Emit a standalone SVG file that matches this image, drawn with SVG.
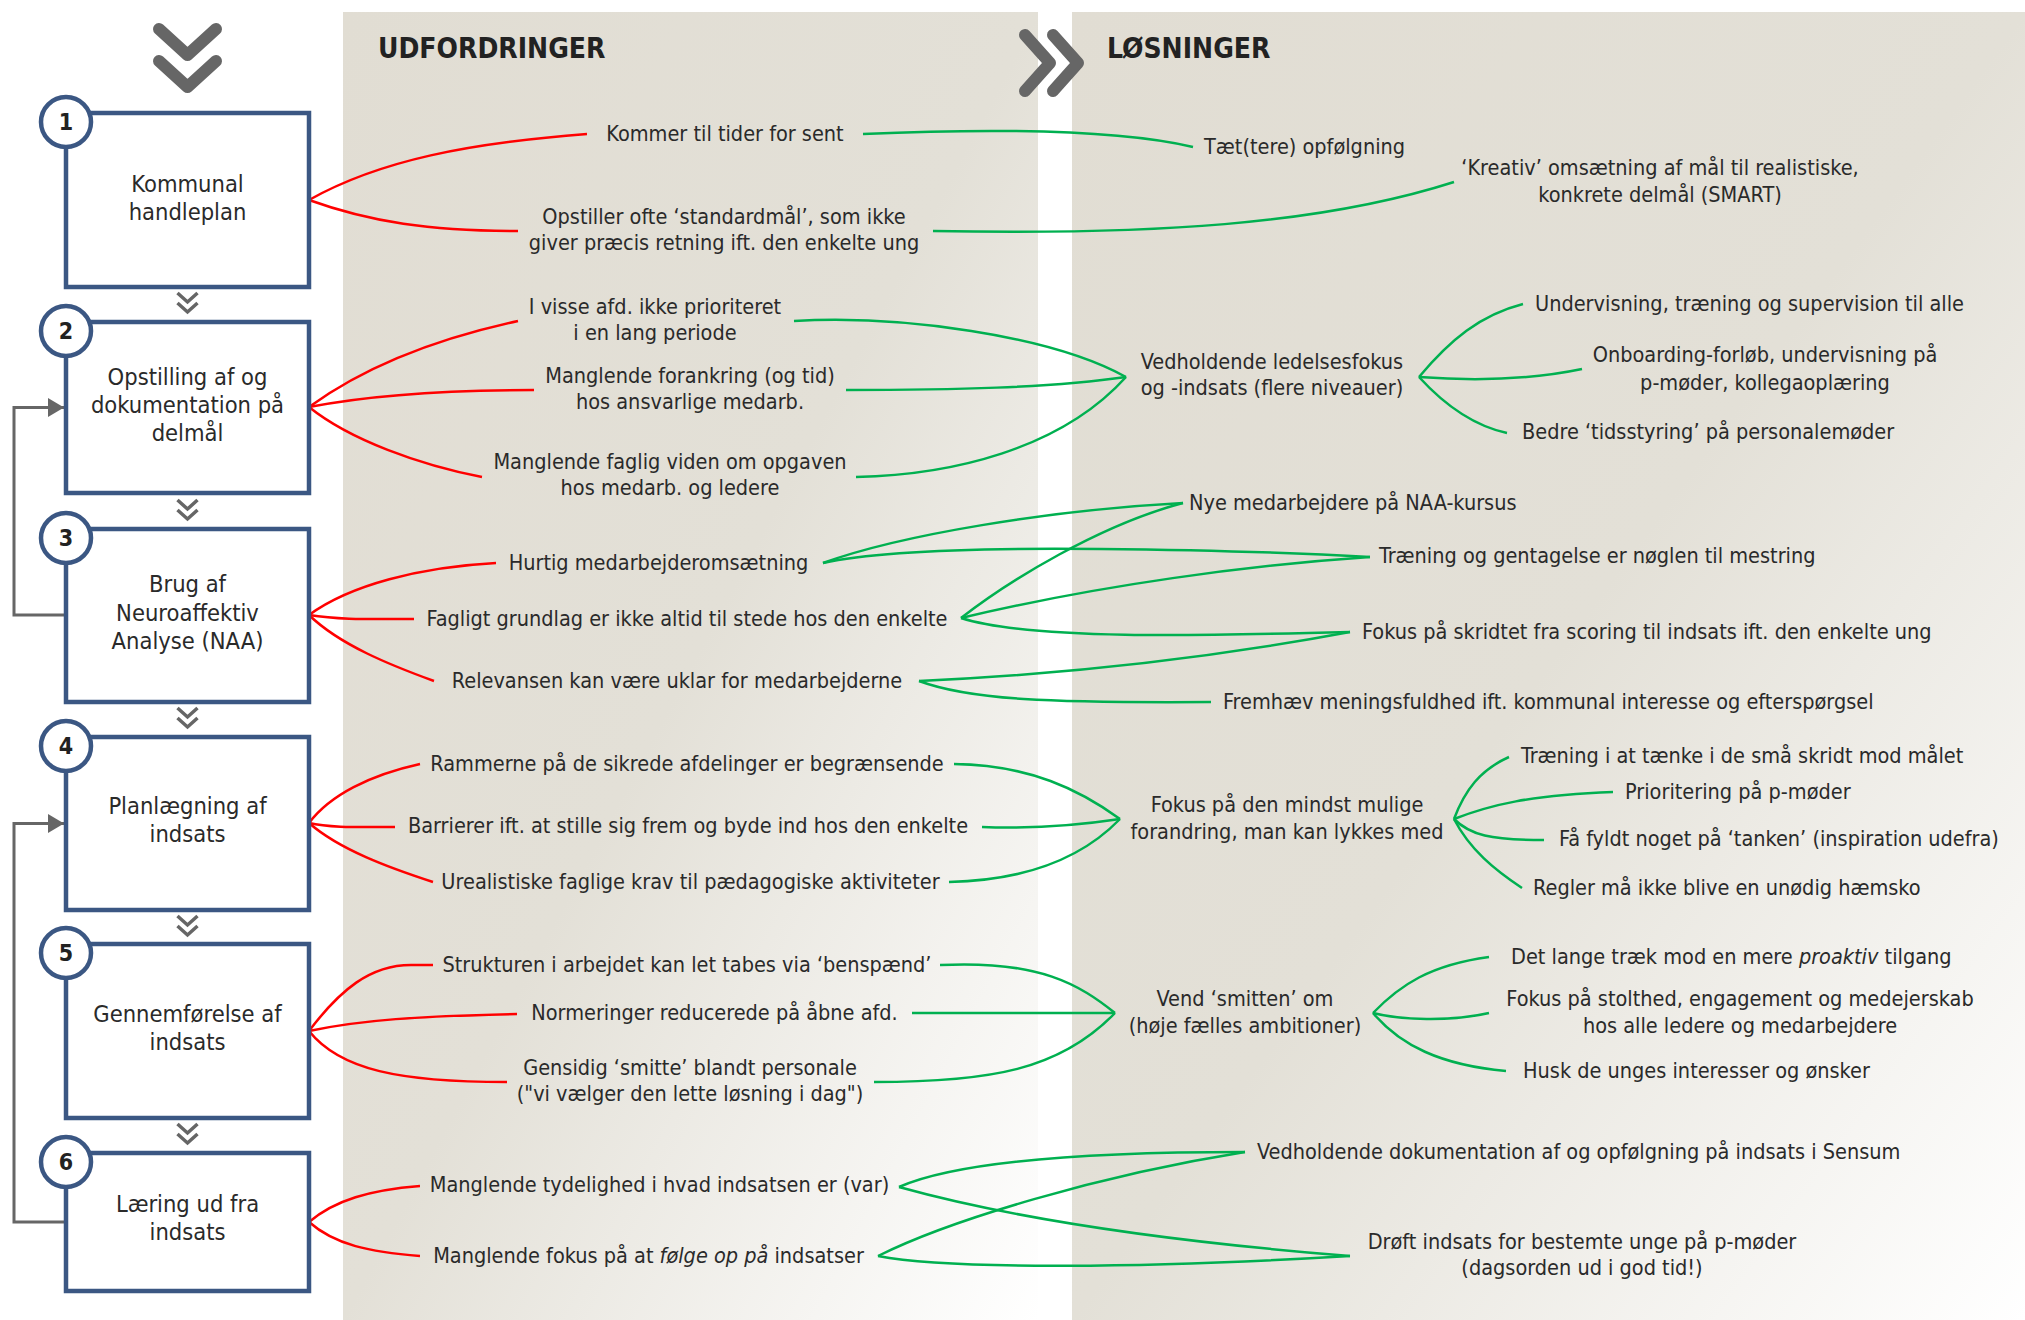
<svg xmlns="http://www.w3.org/2000/svg" width="2025" height="1320" viewBox="0 0 2025 1320">
<defs>
<style>
text{font-family:'DejaVu Sans Condensed','DejaVu Sans',sans-serif;fill:#2a2a2a}
.box{fill:#fff;stroke:#3b5783;stroke-width:4.5}
.num{fill:#fff;stroke:#3b5783;stroke-width:4.5}
.nt{font-size:23px;font-weight:bold;text-anchor:middle;fill:#222}
.bt{font-size:23.5px;text-anchor:middle}
.lt{font-size:21.5px}
.m{text-anchor:middle}
.hd{font-size:28px;font-weight:bold;fill:#222}
.red{fill:none;stroke:#ff0000;stroke-width:2.5}
.grn{fill:none;stroke:#00b050;stroke-width:2.5}
.chev{fill:none;stroke:#666;stroke-width:12;stroke-linecap:round;stroke-linejoin:round}
.sch{fill:none;stroke:#666;stroke-width:3.5}
.loop{fill:none;stroke:#666;stroke-width:3}
</style>
<linearGradient id="bg" x1="0" y1="0" x2="1" y2="1">
<stop offset="0" stop-color="#e1ddd3"/>
<stop offset="0.5" stop-color="#e3e0d7"/>
<stop offset="1" stop-color="#ffffff"/>
</linearGradient>
<marker id="arr" markerWidth="16" markerHeight="19" refX="16" refY="9.5" orient="auto" markerUnits="userSpaceOnUse">
<path d="M0,0 L16,9.5 L0,19 z" fill="#666"/>
</marker>
<g id="dch"><path class="sch" d="M-10,0 L0,9 L10,0 M-10,10 L0,19 L10,10"/></g>
</defs>

<g id="background">
<rect x="343" y="12" width="695" height="1308" fill="url(#bg)"/>
<rect x="1072" y="12" width="953" height="1308" fill="url(#bg)"/>
</g>

<g id="headers">
<path class="chev" d="M159,29 L187.5,55 L216,29 M159,61 L187.5,87 L216,61"/>
<path class="chev" d="M1025,35 L1050,63 L1025,91 M1053,35 L1078,63 L1053,91"/>
<text class="hd" x="378" y="58">UDFORDRINGER</text>
<text class="hd" x="1107" y="58">LØSNINGER</text>
</g>

<g id="flow-chevrons">
<use href="#dch" x="187.5" y="293"/>
<use href="#dch" x="187.5" y="500"/>
<use href="#dch" x="187.5" y="708"/>
<use href="#dch" x="187.5" y="916"/>
<use href="#dch" x="187.5" y="1124"/>
</g>

<g id="connectors">
<path class="loop" d="M64,615 H14 V407.5 H64" marker-end="url(#arr)"/>
<path class="loop" d="M64,1222 H14 V823.5 H64" marker-end="url(#arr)"/>
<!-- red -->
<path class="red" d="M309,200 C380,160 470,143 587,134"/>
<path class="red" d="M309,200 C370,222 430,231 518,231"/>
<path class="red" d="M309,407 C360,370 430,340 518,321"/>
<path class="red" d="M309,407 C370,395 440,390 534,390"/>
<path class="red" d="M309,407 C350,440 420,465 482,477"/>
<path class="red" d="M309,615 C350,585 420,567 496,563"/>
<path class="red" d="M309,615 C340,620 370,619 414,619"/>
<path class="red" d="M309,615 C340,645 390,665 434,681"/>
<path class="red" d="M309,823 C330,795 370,775 420,764"/>
<path class="red" d="M309,823 C330,828 360,827 395,827"/>
<path class="red" d="M309,823 C340,850 390,868 433,882"/>
<path class="red" d="M309,1031 C340,990 370,965 411,965 L433,965"/>
<path class="red" d="M309,1031 C360,1020 420,1016 517,1014"/>
<path class="red" d="M309,1031 C340,1070 400,1082 507,1082"/>
<path class="red" d="M309,1222 C335,1200 370,1190 420,1186"/>
<path class="red" d="M309,1222 C335,1245 370,1252 420,1256"/>
<!-- green row 1 -->
<path class="grn" d="M863,134 C1000,128 1120,130 1193,147"/>
<path class="grn" d="M933,231 C1150,235 1320,225 1454,182"/>
<!-- green row 2 -->
<path class="grn" d="M794,321 C900,315 1050,335 1126,377"/>
<path class="grn" d="M846,390 C950,390 1050,388 1126,377"/>
<path class="grn" d="M856,477 C950,475 1060,450 1126,377"/>
<path class="grn" d="M1419,377 C1450,340 1480,315 1523,304"/>
<path class="grn" d="M1419,377 C1460,380 1520,382 1582,369"/>
<path class="grn" d="M1419,377 C1440,400 1470,425 1507,433"/>
<!-- green row 3 -->
<path class="grn" d="M823,563 C900,535 1050,510 1183,503"/>
<path class="grn" d="M823,563 C880,550 1000,548 1100,549 C1200,550 1300,553 1370,557"/>
<path class="grn" d="M961,618 C1010,580 1100,525 1183,503"/>
<path class="grn" d="M961,618 C1100,585 1250,565 1370,557"/>
<path class="grn" d="M961,618 C1030,640 1200,636 1350,632"/>
<path class="grn" d="M919,681 C1050,675 1200,660 1350,632"/>
<path class="grn" d="M919,681 C970,700 1050,703 1211,702"/>
<!-- green row 4 -->
<path class="grn" d="M954,764 C1030,765 1080,790 1120,819"/>
<path class="grn" d="M982,827 C1030,829 1080,825 1120,819"/>
<path class="grn" d="M949,882 C1040,880 1090,850 1120,819"/>
<path class="grn" d="M1454,819 C1465,790 1480,770 1509,757"/>
<path class="grn" d="M1454,819 C1490,805 1530,795 1613,792"/>
<path class="grn" d="M1454,819 C1470,835 1490,840 1544,840"/>
<path class="grn" d="M1454,819 C1470,850 1495,870 1522,888"/>
<!-- green row 5 -->
<path class="grn" d="M940,965 C1040,960 1080,985 1115,1013"/>
<path class="grn" d="M912,1013 L1115,1013"/>
<path class="grn" d="M874,1082 C990,1082 1060,1070 1115,1013"/>
<path class="grn" d="M1373,1013 C1400,985 1430,965 1489,957"/>
<path class="grn" d="M1373,1013 C1400,1020 1450,1022 1489,1013"/>
<path class="grn" d="M1373,1013 C1400,1045 1440,1065 1506,1071"/>
<!-- green row 6 -->
<path class="grn" d="M899,1187 C960,1160 1100,1152 1245,1152"/>
<path class="grn" d="M899,1187 C1000,1215 1150,1240 1350,1256"/>
<path class="grn" d="M878,1256 C950,1220 1100,1175 1245,1152"/>
<path class="grn" d="M878,1256 C950,1270 1150,1268 1350,1256"/>
</g>

<g id="box1">
<rect class="box" x="66" y="113" width="243" height="174"/>
<circle class="num" cx="66" cy="122" r="25"/>
<text class="nt" x="66" y="130">1</text>
<text class="bt" x="187.5" y="192">Kommunal</text>
<text class="bt" x="187.5" y="220">handleplan</text>
</g>
<g id="box2">
<rect class="box" x="66" y="322" width="243" height="171"/>
<circle class="num" cx="66" cy="331" r="25"/>
<text class="nt" x="66" y="339">2</text>
<text class="bt" x="187.5" y="385">Opstilling af og</text>
<text class="bt" x="187.5" y="413">dokumentation på</text>
<text class="bt" x="187.5" y="441">delmål</text>
</g>
<g id="box3">
<rect class="box" x="66" y="529" width="243" height="173"/>
<circle class="num" cx="66" cy="538" r="25"/>
<text class="nt" x="66" y="546">3</text>
<text class="bt" x="187.5" y="592">Brug af</text>
<text class="bt" x="187.5" y="620.5">Neuroaffektiv</text>
<text class="bt" x="187.5" y="649">Analyse (NAA)</text>
</g>
<g id="box4">
<rect class="box" x="66" y="737" width="243" height="173"/>
<circle class="num" cx="66" cy="746" r="25"/>
<text class="nt" x="66" y="754">4</text>
<text class="bt" x="187.5" y="814">Planlægning af</text>
<text class="bt" x="187.5" y="842">indsats</text>
</g>
<g id="box5">
<rect class="box" x="66" y="944" width="243" height="174"/>
<circle class="num" cx="66" cy="953" r="25"/>
<text class="nt" x="66" y="961">5</text>
<text class="bt" x="187.5" y="1022">Gennemførelse af</text>
<text class="bt" x="187.5" y="1050">indsats</text>
</g>
<g id="box6">
<rect class="box" x="66" y="1153" width="243" height="138"/>
<circle class="num" cx="66" cy="1162" r="25"/>
<text class="nt" x="66" y="1170">6</text>
<text class="bt" x="187.5" y="1212">Læring ud fra</text>
<text class="bt" x="187.5" y="1240">indsats</text>
</g>

<g id="challenges" transform="translate(0,-1)">
<g id="c1"><text class="lt m" x="725" y="141.5">Kommer til tider for sent</text></g>
<g id="c2"><text class="lt m" x="724" y="225">Opstiller ofte ‘standardmål’, som ikke</text><text class="lt m" x="724" y="251">giver præcis retning ift. den enkelte ung</text></g>
<g id="c3"><text class="lt m" x="655" y="314.5">I visse afd. ikke prioriteret</text><text class="lt m" x="655" y="340.5">i en lang periode</text></g>
<g id="c4"><text class="lt m" x="690" y="384">Manglende forankring (og tid)</text><text class="lt m" x="690" y="410">hos ansvarlige medarb.</text></g>
<g id="c5"><text class="lt m" x="670" y="470">Manglende faglig viden om opgaven</text><text class="lt m" x="670" y="496">hos medarb. og ledere</text></g>
<g id="c6"><text class="lt m" x="658.5" y="570.5">Hurtig medarbejderomsætning</text></g>
<g id="c7"><text class="lt m" x="687" y="626.5">Fagligt grundlag er ikke altid til stede hos den enkelte</text></g>
<g id="c8"><text class="lt m" x="677" y="688.5">Relevansen kan være uklar for medarbejderne</text></g>
<g id="c9"><text class="lt m" x="687" y="771.5">Rammerne på de sikrede afdelinger er begrænsende</text></g>
<g id="c10"><text class="lt m" x="688" y="833.5">Barrierer ift. at stille sig frem og byde ind hos den enkelte</text></g>
<g id="c11"><text class="lt m" x="690.5" y="889.5">Urealistiske faglige krav til pædagogiske aktiviteter</text></g>
<g id="c12"><text class="lt m" x="687" y="972.5">Strukturen i arbejdet kan let tabes via ‘benspænd’</text></g>
<g id="c13"><text class="lt m" x="714.5" y="1020.5">Normeringer reducerede på åbne afd.</text></g>
<g id="c14"><text class="lt m" x="690" y="1075.5">Gensidig ‘smitte’ blandt personale</text><text class="lt m" x="690" y="1102">("vi vælger den lette løsning i dag")</text></g>
<g id="c15"><text class="lt m" x="659.5" y="1192.5">Manglende tydelighed i hvad indsatsen er (var)</text></g>
<g id="c16"><text class="lt m" x="648.5" y="1263.5">Manglende fokus på at <tspan font-style="italic">følge op på</tspan> indsatser</text></g>
</g>

<g id="solutions" transform="translate(0,-1)">
<g id="s1"><text class="lt" x="1204" y="155">Tæt(tere) opfølgning</text></g>
<g id="s2"><text class="lt m" x="1660" y="175.5">‘Kreativ’ omsætning af mål til realistiske,</text><text class="lt m" x="1660" y="203">konkrete delmål (SMART)</text></g>
<g id="s3"><text class="lt m" x="1272" y="369.5">Vedholdende ledelsesfokus</text><text class="lt m" x="1272" y="395.5">og -indsats (flere niveauer)</text></g>
<g id="s4"><text class="lt" x="1535" y="311.5">Undervisning, træning og supervision til alle</text></g>
<g id="s5"><text class="lt m" x="1765" y="362.5">Onboarding-forløb, undervisning på</text><text class="lt m" x="1765" y="390.5">p-møder, kollegaoplæring</text></g>
<g id="s6"><text class="lt" x="1522" y="440">Bedre ‘tidsstyring’ på personalemøder</text></g>
<g id="s7"><text class="lt" x="1189" y="510.5">Nye medarbejdere på NAA-kursus</text></g>
<g id="s8"><text class="lt" x="1379" y="564">Træning og gentagelse er nøglen til mestring</text></g>
<g id="s9"><text class="lt" x="1362" y="639.5">Fokus på skridtet fra scoring til indsats ift. den enkelte ung</text></g>
<g id="s10"><text class="lt" x="1223" y="709.5">Fremhæv meningsfuldhed ift. kommunal interesse og efterspørgsel</text></g>
<g id="s11"><text class="lt m" x="1287" y="812.5">Fokus på den mindst mulige</text><text class="lt m" x="1287" y="839.5">forandring, man kan lykkes med</text></g>
<g id="s12"><text class="lt" x="1521" y="763.5">Træning i at tænke i de små skridt mod målet</text></g>
<g id="s13"><text class="lt" x="1625" y="799.5">Prioritering på p-møder</text></g>
<g id="s14"><text class="lt" x="1559" y="847">Få fyldt noget på ‘tanken’ (inspiration udefra)</text></g>
<g id="s15"><text class="lt" x="1533" y="895.5">Regler må ikke blive en unødig hæmsko</text></g>
<g id="s16"><text class="lt m" x="1245" y="1007">Vend ‘smitten’ om</text><text class="lt m" x="1245" y="1034">(høje fælles ambitioner)</text></g>
<g id="s17"><text class="lt" x="1511" y="964.5">Det lange træk mod en mere <tspan font-style="italic">proaktiv</tspan> tilgang</text></g>
<g id="s18"><text class="lt m" x="1740" y="1006.5">Fokus på stolthed, engagement og medejerskab</text><text class="lt m" x="1740" y="1033.5">hos alle ledere og medarbejdere</text></g>
<g id="s19"><text class="lt" x="1523" y="1078.5">Husk de unges interesser og ønsker</text></g>
<g id="s20"><text class="lt" x="1257" y="1159.5">Vedholdende dokumentation af og opfølgning på indsats i Sensum</text></g>
<g id="s21"><text class="lt m" x="1582" y="1249.5">Drøft indsats for bestemte unge på p-møder</text><text class="lt m" x="1582" y="1275.5">(dagsorden ud i god tid!)</text></g>
</g>
</svg>
